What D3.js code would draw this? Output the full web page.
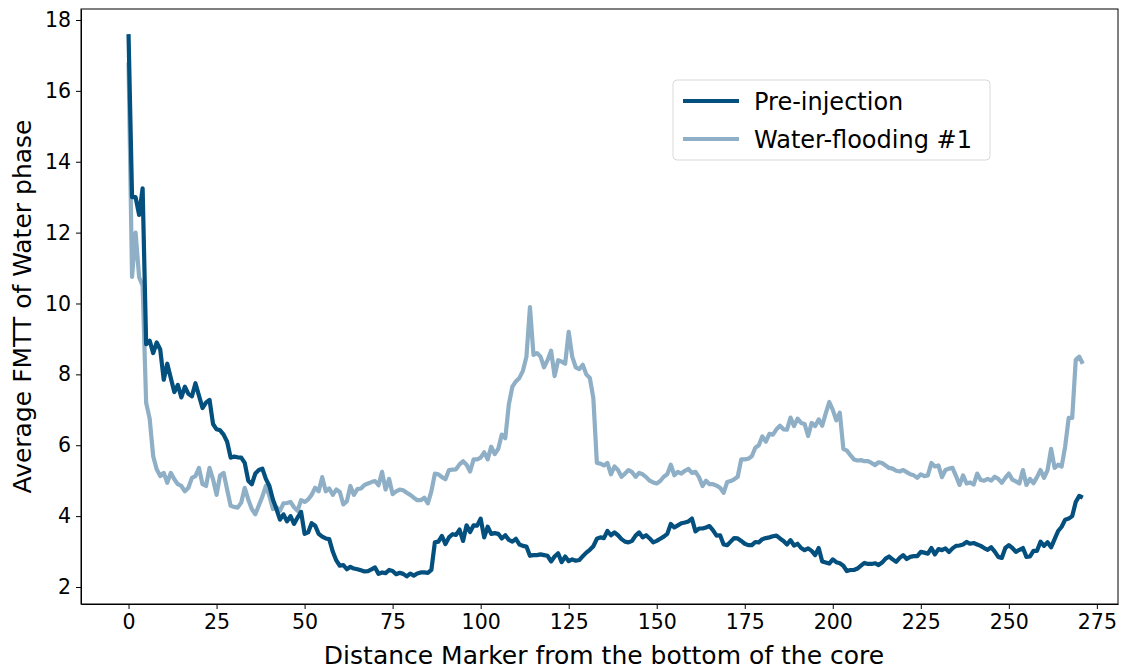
<!doctype html>
<html lang="en">
<head>
  <meta charset="utf-8">
  <title>Average FMTT of Water phase</title>
  <style>
    body { margin: 0; background: #fff; }
    svg text { font-family: "DejaVu Sans", sans-serif; fill: #000; }
    .axis path, .axis line { stroke: #000; stroke-width: 1; }
  </style>
</head>
<body>
<div id="chart"></div>

<script src="https://d3js.org/d3.v7.min.js"></script>
<script>
// series values, one per distance marker
const preInjection = [
  17.6, 13.0, 13.0, 12.5, 13.25, 8.85, 8.95, 8.6, 8.9, 8.7,
  7.85, 8.3, 7.9, 7.5, 7.7, 7.35, 7.65, 7.45, 7.38, 7.75,
  7.4, 7.05, 7.2, 7.28, 6.6, 6.45, 6.42, 6.3, 6.1, 5.65,
  5.68, 5.66, 5.65, 5.5, 5.0, 4.9, 5.2, 5.3, 5.34, 5.05,
  4.85, 4.47, 4.2, 3.9, 4.05, 3.85, 4.0, 3.78, 3.96, 4.12,
  3.5, 3.54, 3.8, 3.73, 3.5, 3.42, 3.37, 3.35, 3.0, 2.75,
  2.6, 2.62, 2.5, 2.57, 2.52, 2.5, 2.47, 2.44, 2.45, 2.5,
  2.55, 2.37, 2.41, 2.39, 2.48, 2.45, 2.36, 2.4, 2.37,
  2.3, 2.38, 2.32, 2.38, 2.41, 2.41, 2.4, 2.48, 3.26, 3.28,
  3.44, 3.21, 3.4, 3.49, 3.47, 3.62, 3.3, 3.74, 3.55, 3.74,
  3.73, 3.93, 3.4, 3.7, 3.5, 3.52, 3.5, 3.37, 3.46, 3.33,
  3.28, 3.36, 3.2, 3.16, 3.14, 2.88, 2.9, 2.9, 2.92, 2.9,
  2.88, 2.72, 2.86, 2.95, 2.7, 2.86, 2.73, 2.78, 2.74, 2.76,
  2.87, 2.97, 3.05, 3.15, 3.36, 3.4, 3.38, 3.58, 3.46, 3.54,
  3.46, 3.35, 3.28, 3.26, 3.3, 3.45, 3.54, 3.4, 3.46, 3.37,
  3.26, 3.3, 3.36, 3.42, 3.5, 3.78, 3.68, 3.74, 3.8, 3.82,
  3.85, 3.93, 3.57, 3.65, 3.65, 3.68, 3.72, 3.6, 3.45, 3.46,
  3.2, 3.18, 3.28, 3.38, 3.37, 3.3, 3.22, 3.18, 3.18, 3.27,
  3.26, 3.35, 3.38, 3.4, 3.43, 3.45, 3.37, 3.3, 3.2, 3.32,
  3.17, 3.22, 3.1, 3.04, 3.09, 3.02, 2.9, 3.1, 2.72, 2.69,
  2.66, 2.78, 2.7, 2.67, 2.6, 2.45, 2.48, 2.48, 2.52, 2.6,
  2.68, 2.65, 2.65, 2.67, 2.62, 2.69, 2.8, 2.86, 2.78, 2.71,
  2.82, 2.9, 2.79, 2.85, 2.87, 2.87, 2.99, 2.97, 2.94,
  3.1, 2.92, 3.07, 3.04, 3.09, 2.99, 3.09, 3.16, 3.17, 3.2,
  3.27, 3.22, 3.24, 3.2, 3.16, 3.1, 3.05, 3.12, 3.0, 2.85,
  2.82, 3.1, 3.18, 3.1, 2.99, 3.05, 3.1, 2.85, 2.86, 3.02,
  3.02, 3.28, 3.16, 3.26, 3.12, 3.35, 3.58, 3.7, 3.9, 3.93,
  4.0, 4.4, 4.57, 4.52
];

const waterFlooding1 = [
  16.8, 10.75, 12.0, 10.75, 10.5, 7.2, 6.75, 5.69, 5.32, 5.13,
  5.22, 4.94, 5.22, 5.04, 4.9, 4.85, 4.7, 4.8, 5.08, 5.13,
  5.36, 4.9, 4.85, 5.36, 5.04, 4.6, 5.15, 5.22, 4.75, 4.29,
  4.26, 4.24, 4.38, 4.8, 4.47, 4.2, 4.05, 4.3, 4.55, 4.85,
  4.57, 4.2, 4.25, 4.15, 4.36, 4.37, 4.4, 4.25, 4.15, 4.45,
  4.4, 4.47, 4.6, 4.8, 4.7, 5.1, 4.7, 4.78, 4.6, 4.75,
  4.68, 4.33, 4.42, 4.85, 4.6, 4.76, 4.78, 4.88, 4.92, 4.96,
  4.99, 4.87, 5.25, 4.75, 5.05, 4.62, 4.7, 4.75, 4.73,
  4.66, 4.6, 4.52, 4.45, 4.45, 4.52, 4.36, 4.7, 5.2, 5.18,
  5.1, 5.04, 5.3, 5.31, 5.32, 5.46, 5.55, 5.45, 5.26, 5.6,
  5.6, 5.65, 5.8, 5.6, 5.96, 5.75, 5.9, 6.3, 6.2, 7.15,
  7.65, 7.8, 7.9, 8.1, 8.5, 9.9, 8.55, 8.6, 8.5, 8.2,
  8.4, 8.67, 7.95, 8.4, 8.36, 8.3, 9.2, 8.5, 8.2, 8.15,
  8.27, 8.0, 7.9, 7.33, 5.5, 5.48, 5.43, 5.5, 5.18, 5.4,
  5.3, 5.11, 5.2, 5.3, 5.24, 5.11, 5.22, 5.18, 5.1, 5.0,
  4.95, 4.92, 4.99, 5.11, 5.18, 5.45, 5.15, 5.25, 5.2, 5.28,
  5.33, 5.22, 5.25, 5.1, 4.85, 5.0, 4.9, 4.9, 4.86, 4.8,
  4.66, 4.96, 4.99, 5.04, 5.11, 5.6, 5.6, 5.62, 5.69, 5.93,
  6.0, 6.25, 6.1, 6.32, 6.3, 6.45, 6.55, 6.45, 6.44, 6.78,
  6.54, 6.75, 6.63, 6.6, 6.26, 6.63, 6.54, 6.73, 6.55, 6.9,
  7.22, 7.0, 6.7, 6.92, 5.9, 5.85, 5.72, 5.6, 5.57, 5.58,
  5.55, 5.55, 5.5, 5.44, 5.52, 5.5, 5.43, 5.36, 5.34, 5.28,
  5.26, 5.3, 5.24, 5.18, 5.15, 5.08, 5.18, 5.13, 5.15,
  5.5, 5.4, 5.43, 5.1, 5.3, 5.34, 5.36, 5.13, 4.88, 5.15,
  4.92, 4.95, 4.89, 5.2, 5.02, 5.0, 5.05, 5.0, 5.11, 5.05,
  4.94, 5.08, 5.2, 5.03, 4.98, 4.92, 5.3, 4.88, 5.05, 4.93,
  5.1, 5.3, 5.08, 5.3, 5.9, 5.36, 5.45, 5.4, 5.97, 6.77,
  6.77, 8.41, 8.5, 8.3
];

const seriesNames = ['Pre-injection', 'Water-flooding #1'];
const xTicks = [0, 25, 50, 75, 100, 125, 150, 175, 200, 225, 250, 275];
const yTicks = [2, 4, 6, 8, 10, 12, 14, 16, 18];

const width = 1122;
const height = 669;
const margin = { top: 9, right: 4, bottom: 65, left: 81 };
const colors = ['#034f7e', '#8eafc6'];

const svg = d3.select('#chart')
  .append('svg')
  .attr('width', width)
  .attr('height', height);

const x = d3.scaleLinear()
  .domain([-13.5, 281])
  .range([margin.left, width - margin.right]);

const y = d3.scaleLinear()
  .domain([1.52, 18.31])
  .range([height - margin.bottom, margin.top]);

// axes
svg.append('g')
  .attr('class', 'axis')
  .attr('transform', `translate(0,${height - margin.bottom})`)
  .call(d3.axisBottom(x).tickValues(xTicks).tickSize(5).tickPadding(5).tickSizeOuter(0))
  .call(g => g.selectAll('text').style('font-size', '20.5px'));

svg.append('g')
  .attr('class', 'axis')
  .attr('transform', `translate(${margin.left},0)`)
  .call(d3.axisLeft(y).tickValues(yTicks).tickSize(5).tickPadding(5).tickSizeOuter(0))
  .call(g => g.selectAll('text').style('font-size', '20.5px'));

// frame
svg.append('rect')
  .attr('x', margin.left)
  .attr('y', margin.top)
  .attr('width', width - margin.right - margin.left)
  .attr('height', height - margin.bottom - margin.top)
  .attr('fill', 'none')
  .attr('stroke', '#000')
  .attr('stroke-width', 1);

// lines
const line = d3.line()
  .x((d, i) => x(i))
  .y(d => y(d));

const plot = svg.append('g');
[preInjection, waterFlooding1].forEach((s, k) => {
  plot.append('path')
    .datum(s)
    .attr('d', line)
    .attr('fill', 'none')
    .attr('stroke', colors[k])
    .attr('stroke-width', 4.2)
    .attr('stroke-linejoin', 'round');
});
// the dark line sits on top in the reference at the start
plot.select('path').raise();

// axis labels
svg.append('text')
  .attr('x', 604)
  .attr('y', 664)
  .attr('text-anchor', 'middle')
  .style('font-size', '25px')
  .text('Distance Marker from the bottom of the core');

svg.append('text')
  .attr('transform', `translate(31,${(margin.top + height - margin.bottom) / 2}) rotate(-90)`)
  .attr('text-anchor', 'middle')
  .style('font-size', '25px')
  .text('Average FMTT of Water phase');

// legend
const legend = svg.append('g').attr('transform', 'translate(673,80)');
legend.append('rect')
  .attr('width', 317)
  .attr('height', 80)
  .attr('rx', 4)
  .attr('fill', '#fff')
  .attr('stroke', '#d9d9d9');

seriesNames.forEach((name, k) => {
  const row = legend.append('g').attr('transform', `translate(0,${21 + k * 38})`);
  row.append('line')
    .attr('x1', 10).attr('x2', 66)
    .attr('stroke', colors[k])
    .attr('stroke-width', 4.2);
  row.append('text')
    .attr('x', 81)
    .attr('y', 8.5)
    .style('font-size', '24px')
    .text(name);
});
</script>
</body>
</html>
